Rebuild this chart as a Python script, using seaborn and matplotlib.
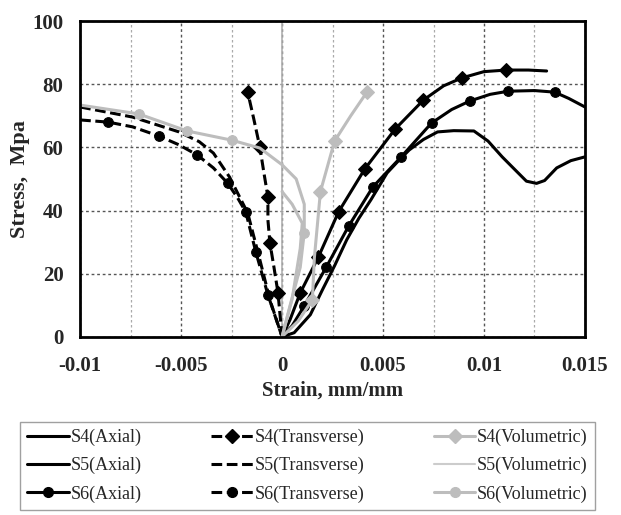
import numpy as np
import pandas as pd
import matplotlib
matplotlib.use('Agg')
import matplotlib.pyplot as plt
from matplotlib.lines import Line2D
from matplotlib.ticker import MultipleLocator
import seaborn as sns

# strain (mm/mm) / stress (MPa)
s4_axial_x = [0, 0.0004, 0.0009, 0.0018, 0.0028, 0.0041, 0.0056, 0.0070, 0.0080, 0.0089, 0.0100, 0.0111, 0.0122, 0.0131]
s4_axial_y = [0, 5.5, 13.9, 25.3, 39.6, 53.2, 65.8, 75.0, 79.5, 82.0, 84.0, 84.5, 84.5, 84.2]

s5_axial_x = [0, 0.0006, 0.0014, 0.0020, 0.0026, 0.0032, 0.0038, 0.0044, 0.0052, 0.0058, 0.0063, 0.0070,
              0.0077, 0.0085, 0.0095, 0.0102, 0.0109, 0.0116, 0.0121, 0.0126, 0.0130, 0.0136, 0.0143, 0.0150]
s5_axial_y = [0, 1.3, 7.0, 14.9, 22.5, 30.7, 37.5, 43.4, 51.9, 56.0, 59.2, 62.5,
              64.9, 65.3, 65.2, 62.0, 57.0, 52.5, 49.3, 48.6, 49.5, 53.5, 55.8, 57.0]

s6_axial_x = [0, 0.0005, 0.0011, 0.0022, 0.0033, 0.0045, 0.0059, 0.0074, 0.0084, 0.0093, 0.0103, 0.0112,
              0.0125, 0.0135, 0.0142, 0.0150]
s6_axial_y = [0, 3.5, 9.8, 22.2, 35.1, 47.5, 57.0, 67.7, 72.0, 74.7, 76.8, 77.8, 78.0, 77.5, 75.5, 72.8]

s4_trans_x = [0, -0.0002, -0.0004, -0.0006, -0.0007, -0.0007, -0.0009, -0.0011, -0.0014, -0.0017]
s4_trans_y = [0, 13.9, 22.0, 29.7, 37.0, 44.3, 52.0, 60.1, 69.0, 77.5]

s5_trans_x = [-0.0100, -0.0074, -0.0051, -0.0041, -0.0034, -0.0026, -0.0017, -0.0011, -0.0006, 0]
s5_trans_y = [72.8, 69.6, 64.9, 61.8, 58.2, 50.6, 39.2, 24.4, 11.7, 0]

s6_trans_x = [-0.0100, -0.0086, -0.0074, -0.0061, -0.0051, -0.0042, -0.0034, -0.0027, -0.0022, -0.0018,
              -0.0013, -0.0007, 0]
s6_trans_y = [68.7, 68.0, 66.5, 63.6, 60.8, 57.6, 53.5, 48.7, 44.0, 39.6, 26.9, 13.3, 0]

s4_vol_x = [0, 0.0008, 0.0015, 0.0016, 0.0019, 0.0026, 0.0034, 0.0042]
s4_vol_y = [0, 5.0, 11.7, 25.0, 46.0, 62.0, 70.0, 77.5]

s5_vol_x = [0, 0.0005, 0.0009, 0.0010, 0.0005, 0.0000]
s5_vol_y = [0, 12.0, 28.0, 36.0, 42.0, 46.0]

s6_vol_x = [0, 0.0004, 0.0009, 0.0011, 0.0011, 0.0007, 0.0000, -0.0011, -0.0025, -0.0047, -0.0071, -0.0100]
s6_vol_y = [0, 10.0, 22.0, 33.0, 42.0, 50.0, 54.5, 59.8, 62.3, 65.2, 70.6, 73.4]

sns.set_style('white')
plt.rcParams['font.family'] = ['Liberation Serif', 'DejaVu Serif']

fig = plt.figure(figsize=(6.21, 5.15), dpi=100)
ax = fig.add_axes([0.129, 0.346, 0.813, 0.613])

black = '#000000'
gray = '#bdbdbd'
dash = (0, (3.5, 1.5))

series = [
    (s4_axial_x, s4_axial_y, black, '-', 'D', [2, 3, 4, 5, 6, 7, 9, 11]),
    (s5_axial_x, s5_axial_y, black, '-', None, None),
    (s6_axial_x, s6_axial_y, black, '-', 'o', [2, 3, 4, 5, 6, 7, 9, 11, 13]),
    (s4_trans_x, s4_trans_y, black, dash, 'D', [1, 3, 5, 7, 9]),
    (s5_trans_x, s5_trans_y, black, dash, None, None),
    (s6_trans_x, s6_trans_y, black, dash, 'o', [1, 3, 5, 7, 9, 10, 11]),
    (s4_vol_x, s4_vol_y, gray, '-', 'D', [2, 4, 5, 7]),
    (s5_vol_x, s5_vol_y, gray, '-', None, None),
    (s6_vol_x, s6_vol_y, gray, '-', 'o', [3, 8, 9, 10]),
]

for xs, ys, c, ls, mk, every in series:
    df = pd.DataFrame({'strain': xs, 'stress': ys})
    kw = {}
    if mk:
        kw = dict(marker=mk, markevery=every, markersize=7, markeredgecolor=c)
    sns.lineplot(data=df, x='strain', y='stress', sort=False, estimator=None,
                 color=c, linestyle=ls, linewidth=2.2, ax=ax, **kw)

ax.set_xlim(-0.01, 0.015)
ax.set_ylim(0, 100)
ax.xaxis.set_major_locator(MultipleLocator(0.005))
ax.xaxis.set_minor_locator(MultipleLocator(0.0025))
ax.yaxis.set_major_locator(MultipleLocator(20))
ax.set_xticks([-0.01, -0.005, 0, 0.005, 0.01, 0.015])
ax.set_xticklabels(['-0.01', '-0.005', '0', '0.005', '0.01', '0.015'])

ax.grid(True, which='major', axis='both', color='#555555', linestyle=(0, (2, 2)), linewidth=1)
ax.grid(True, which='minor', axis='x', color='#aaaaaa', linestyle=(0, (2, 2)), linewidth=0.9)
ax.axvline(0, color='#b0b0b0', linewidth=1.2, zorder=1)

for sp in ax.spines.values():
    sp.set_linewidth(2)
    sp.set_color('black')

ax.tick_params(axis='y', length=0, pad=12)
ax.tick_params(axis='x', which='both', direction='in', length=4, width=1, pad=14)
for lab in ax.get_xticklabels() + ax.get_yticklabels():
    lab.set_fontsize(15)
    lab.set_fontweight('bold')

ax.set_xlabel('Strain, mm/mm', fontsize=15, fontweight='bold', labelpad=3)
ax.set_ylabel('Stress,  Mpa', fontsize=16, fontweight='bold', labelpad=2)

def h(c, ls, mk, lw=2.2):
    return Line2D([], [], color=c, linestyle=ls, marker=mk, markersize=7, linewidth=lw)

handles = [
    h(black, '-', None), h(black, '-', None), h(black, '-', 'o'),
    h(black, dash, 'D'), h(black, dash, None), h(black, dash, 'o'),
    h(gray, '-', 'D'), h('#cccccc', '-', None, 1.5), h(gray, '-', 'o'),
]
labels = ['S4(Axial)', 'S5(Axial)', 'S6(Axial)',
          'S4(Transverse)', 'S5(Transverse)', 'S6(Transverse)',
          'S4(Volumetric)', 'S5(Volumetric)', 'S6(Volumetric)']
leg = fig.legend(handles, labels, ncol=3, loc='upper left',
                 bbox_to_anchor=(0.032, 0.181, 0.926, 0.0), mode='expand',
                 fontsize=13, frameon=True, fancybox=False, edgecolor='#888888',
                 handlelength=2.3, handletextpad=0.1, labelspacing=0.6,
                 borderaxespad=0, columnspacing=1.0)
leg.get_frame().set_linewidth(1)

fig.savefig('out.png', dpi=100)
